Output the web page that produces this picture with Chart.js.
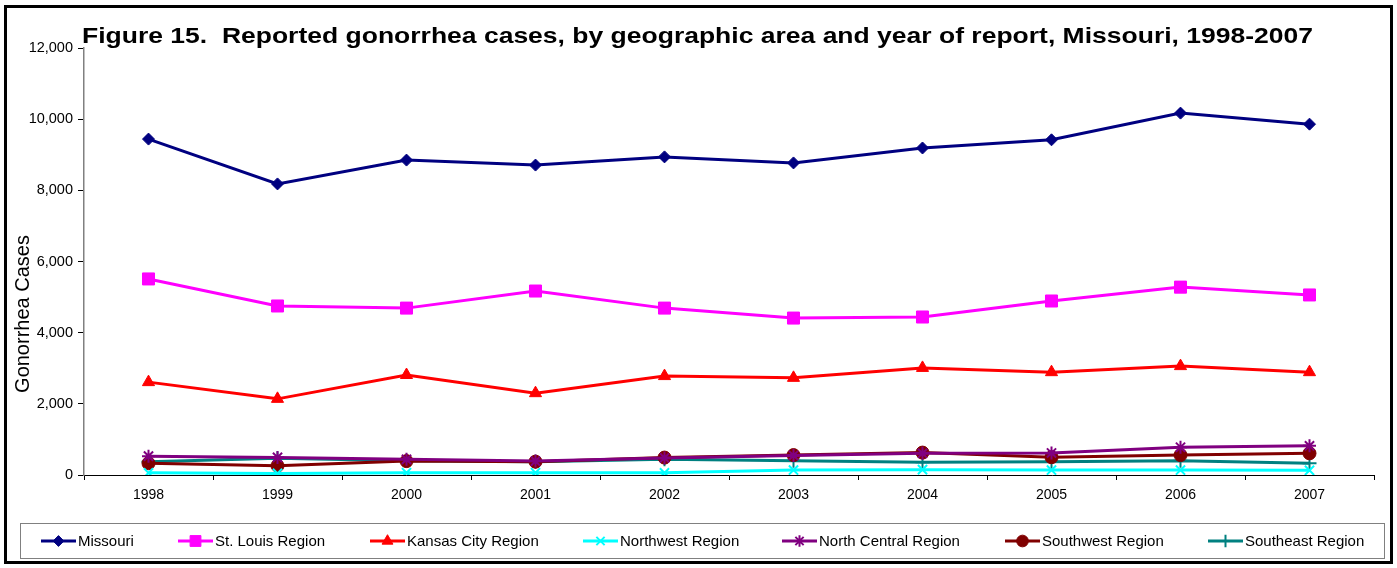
<!DOCTYPE html>
<html>
<head>
<meta charset="utf-8">
<script src="https://cdn.jsdelivr.net/npm/chart.js@4.4.1/dist/chart.umd.min.js"></script>
<style>
  html, body { margin: 0; padding: 0; background: #fff; }
  #wrap { width: 1397px; height: 568px; position: relative; }
</style>
</head>
<body>
<div id="wrap"><canvas id="chart" width="1397" height="568"></canvas></div>
<script>
const years = ['1998', '1999', '2000', '2001', '2002', '2003', '2004', '2005', '2006', '2007'];
const missouri = [9440, 8180, 8850, 8710, 8940, 8770, 9190, 9420, 10170, 9860];
const stLouis = [5510, 4750, 4690, 5170, 4690, 4410, 4440, 4890, 5280, 5060];
const kansasCity = [2610, 2140, 2810, 2300, 2780, 2730, 3010, 2890, 3060, 2890];
const northwest = [60, 45, 65, 65, 60, 140, 150, 140, 140, 130];
const northCentral = [530, 495, 440, 390, 480, 550, 610, 620, 780, 820];
const southwest = [330, 260, 390, 375, 490, 560, 630, 500, 560, 610];
const southeast = [375, 470, 400, 375, 440, 400, 355, 375, 400, 330];
const yTicks = [0, 2000, 4000, 6000, 8000, 10000, 12000];

const titleText = 'Figure 15.  Reported gonorrhea cases, by geographic area and year of report, Missouri, 1998-2007';

function series(label, data, color, style, radius) {
    const thin = (style === 'crossRot' || style === 'cross' || style === 'star');
    return {
        label: label,
        data: data,
        borderColor: color,
        backgroundColor: color,
        borderWidth: 3,
        pointStyle: style,
        pointRadius: radius,
        pointBorderColor: color,
        pointBackgroundColor: color,
        pointBorderWidth: thin ? 2 : 1,
        tension: 0
    };
}

// Frame, title, axis label and legend box
const decorations = {
    id: 'decorations',
    afterDraw(chart) {
        const ctx = chart.ctx;
        ctx.save();
        // outer frame
        ctx.strokeStyle = '#000';
        ctx.lineWidth = 3;
        ctx.strokeRect(5.5, 6.5, 1386, 556);

        // title, stretched to the reference width
        ctx.fillStyle = '#000';
        ctx.font = 'bold 22px "Liberation Sans", Arial, sans-serif';
        ctx.textAlign = 'left';
        ctx.textBaseline = 'alphabetic';
        const tw = ctx.measureText(titleText).width;
        ctx.save();
        ctx.translate(82, 43);
        ctx.scale(1231 / tw, 1);
        ctx.fillText(titleText, 0, 0);
        ctx.restore();

        // y axis title
        ctx.save();
        ctx.translate(23, 314);
        ctx.rotate(-Math.PI / 2);
        ctx.textAlign = 'center';
        ctx.textBaseline = 'middle';
        ctx.font = '20px "Liberation Sans", Arial, sans-serif';
        ctx.fillText('Gonorrhea Cases', 0, 0);
        ctx.restore();

        // legend box
        ctx.strokeStyle = '#808080';
        ctx.lineWidth = 1;
        ctx.strokeRect(20.5, 523.5, 1364, 35);
        const itemX = [41, 178, 370, 583, 782, 1005, 1208];
        ctx.font = '15px "Liberation Sans", Arial, sans-serif';
        ctx.textAlign = 'left';
        ctx.textBaseline = 'middle';
        chart.data.datasets.forEach((ds, i) => {
            const x = itemX[i];
            const y = 541;
            ctx.strokeStyle = ds.borderColor;
            ctx.fillStyle = ds.backgroundColor;
            ctx.lineWidth = 3;
            ctx.beginPath();
            ctx.moveTo(x, y);
            ctx.lineTo(x + 35, y);
            ctx.stroke();
            ctx.lineWidth = ds.pointBorderWidth;
            Chart.helpers.drawPoint(ctx, {
                pointStyle: ds.pointStyle,
                radius: ds.pointRadius * 0.9,
                borderWidth: ds.pointBorderWidth,
                rotation: 0
            }, x + 17.5, y);
            ctx.fillStyle = '#000';
            ctx.fillText(ds.label, x + 37, y + 1);
        });
        ctx.restore();
    }
};

new Chart(document.getElementById('chart'), {
    type: 'line',
    data: {
        labels: years,
        datasets: [
            series('Missouri', missouri, '#000080', 'rectRot', 6),
            series('St. Louis Region', stLouis, '#FF00FF', 'rect', 8.5),
            series('Kansas City Region', kansasCity, '#FF0000', 'triangle', 7),
            series('Northwest Region', northwest, '#00FFFF', 'crossRot', 6.5),
            series('North Central Region', northCentral, '#800080', 'star', 6.5),
            series('Southwest Region', southwest, '#800000', 'circle', 6.5),
            series('Southeast Region', southeast, '#008080', 'cross', 7)
        ]
    },
    options: {
        responsive: false,
        animation: false,
        devicePixelRatio: 1,
        layout: { padding: { top: 48, right: 23, bottom: 60, left: 0 } },
        plugins: {
            legend: { display: false },
            title: { display: false },
            tooltip: { enabled: false }
        },
        scales: {
            x: {
                offset: true,
                grid: {
                    offset: true,
                    drawOnChartArea: false,
                    drawTicks: true,
                    tickLength: 5,
                    color: '#000'
                },
                border: { color: '#000', width: 1 },
                ticks: {
                    color: '#000',
                    padding: 7,
                    maxRotation: 0,
                    font: { size: 14, family: '"Liberation Sans", Arial, sans-serif' }
                },
                afterFit(scale) { scale.height = 33; }
            },
            y: {
                min: 0,
                max: 12000,
                afterBuildTicks(scale) {
                    scale.ticks = yTicks.map(v => ({ value: v }));
                },
                grid: {
                    drawOnChartArea: false,
                    drawTicks: true,
                    tickLength: 6,
                    color: '#000'
                },
                border: { color: '#808080', width: 1.5 },
                ticks: {
                    color: '#000',
                    padding: 5,
                    font: { size: 14.5, family: '"Liberation Sans", Arial, sans-serif' },
                    callback: v => v.toLocaleString('en-US')
                },
                afterFit(scale) { scale.width = 84; }
            }
        }
    },
    plugins: [decorations]
});
</script>
</body>
</html>
